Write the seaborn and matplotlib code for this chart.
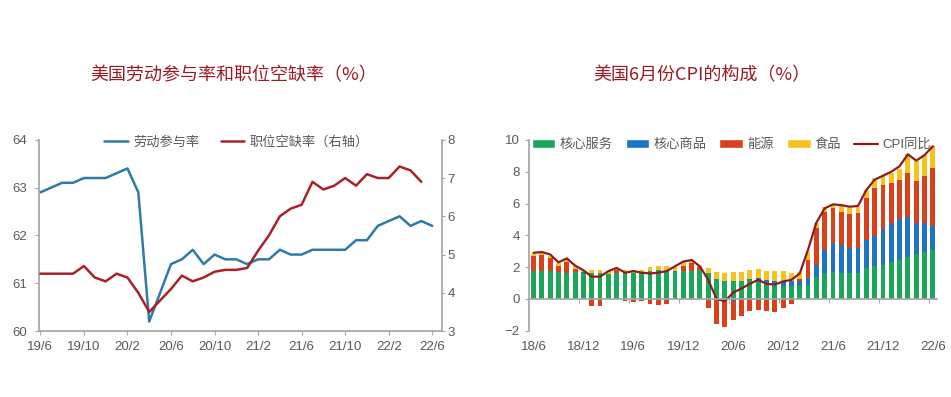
import matplotlib
matplotlib.use("Agg")
import matplotlib.pyplot as plt
from matplotlib.patches import Patch
from matplotlib.lines import Line2D
import numpy as np
import pandas as pd
import seaborn as sns

# ---- left chart: 2019/6 - 2022/6 ----
lfpr = [62.9, 63.0, 63.1, 63.1, 63.2, 63.2, 63.2, 63.3, 63.4, 62.9,
        60.2, 60.8, 61.4, 61.5, 61.7, 61.4, 61.6, 61.5, 61.5, 61.4,
        61.5, 61.5, 61.7, 61.6, 61.6, 61.7, 61.7, 61.7, 61.7, 61.9,
        61.9, 62.2, 62.3, 62.4, 62.2, 62.3, 62.2]
# job openings rate, one month shorter (2019/6 - 2022/5)
job_openings = [4.5, 4.5, 4.5, 4.5, 4.7, 4.4, 4.3, 4.5, 4.4, 4.0,
                3.5, 3.8, 4.1, 4.45, 4.3, 4.4, 4.55, 4.6, 4.6, 4.65,
                5.1, 5.5, 6.0, 6.2, 6.3, 6.9, 6.7, 6.8, 7.0, 6.8,
                7.1, 7.0, 7.0, 7.3, 7.2, 6.9]

# ---- right chart: 2018/6 - 2022/6, contributions to CPI yoy ----
core_services = [1.75, 1.75, 1.75, 1.70, 1.65, 1.70, 1.65, 1.60, 1.60, 1.55,
                 1.65, 1.60, 1.60, 1.60, 1.75, 1.80, 1.75, 1.70, 1.75, 1.75,
                 1.80, 1.65, 1.25, 1.10, 1.10, 1.10, 1.20, 1.20, 0.95, 0.85,
                 0.80, 0.80, 0.80, 0.90, 1.40, 1.60, 1.70, 1.60, 1.60, 1.65,
                 1.95, 2.05, 2.15, 2.30, 2.45, 2.65, 2.80, 2.95, 3.10]
core_goods = [0.00, 0.00, 0.00, 0.00, 0.00, 0.00, 0.03, 0.05, 0.05, 0.00,
              0.00, -0.05, 0.00, 0.00, 0.00, 0.00, 0.00, 0.05, 0.00, -0.05,
              0.00, 0.00, -0.05, -0.15, -0.15, -0.05, 0.05, 0.10, 0.25, 0.30,
              0.30, 0.30, 0.30, 0.40, 0.75, 1.45, 1.80, 1.80, 1.60, 1.55,
              1.75, 1.90, 2.25, 2.50, 2.60, 2.50, 2.00, 1.80, 1.50]
energy = [0.95, 1.00, 0.80, 0.40, 0.70, 0.20, 0.00, -0.42, -0.45, 0.00,
          0.15, -0.10, -0.20, -0.15, -0.35, -0.40, -0.35, -0.03, 0.30, 0.50,
          0.20, -0.60, -1.55, -1.60, -1.15, -1.00, -0.77, -0.67, -0.77, -0.84,
          -0.56, -0.29, 0.15, 1.17, 2.31, 2.39, 2.20, 2.10, 2.16, 2.20,
          2.62, 3.00, 2.79, 2.52, 2.41, 2.80, 2.65, 2.97, 3.62]
food = [0.15, 0.15, 0.15, 0.15, 0.15, 0.15, 0.10, 0.20, 0.20, 0.20,
        0.15, 0.20, 0.25, 0.25, 0.25, 0.25, 0.30, 0.25, 0.25, 0.20,
        0.10, 0.30, 0.42, 0.53, 0.57, 0.57, 0.59, 0.58, 0.58, 0.59,
        0.64, 0.53, 0.45, 0.50, 0.31, 0.36, 0.28, 0.36, 0.34, 0.37,
        0.52, 0.63, 0.52, 0.63, 0.73, 1.17, 1.25, 1.32, 1.40]
cpi_yoy = [2.9, 2.95, 2.8, 2.3, 2.55, 2.1, 1.8, 1.4, 1.4, 1.75,
           1.95, 1.65, 1.75, 1.65, 1.6, 1.65, 1.75, 2.05, 2.35, 2.45,
           2.05, 1.2, 0.0, -0.15, 0.4, 0.65, 0.95, 1.2, 0.95, 0.9,
           1.1, 1.2, 1.6, 3.1, 4.8, 5.7, 5.95, 5.9, 5.8, 5.85,
           6.85, 7.5, 7.75, 8.0, 8.35, 9.1, 8.7, 9.05, 9.6]

left_months = [f"{p.year % 100}/{p.month}" for p in pd.period_range("2019-06", "2022-06", freq="M")]
right_months = [f"{p.year % 100}/{p.month}" for p in pd.period_range("2018-06", "2022-06", freq="M")]

C_LFPR = "#2f7ba8"
C_JO = "#a8222b"
C_GREEN = "#1ba65a"
C_BLUE = "#1f72c4"
C_ORANGE = "#d9411d"
C_YELLOW = "#f6c31c"
C_CPI = "#8e1b1f"
C_TITLE = "#9b1b22"
C_AXIS = "#a6a6a6"
C_TEXT = "#595959"

sns.set_theme(style="white")
plt.rcParams["font.family"] = ["Liberation Sans", "Noto Sans CJK SC"]

fig = plt.figure(figsize=(9.51, 3.97), dpi=100)

# ---------------- left chart ----------------
ax1 = fig.add_axes([0.0413, 0.166, 0.4235, 0.482])
xl = np.arange(len(lfpr))
sns.lineplot(x=xl, y=lfpr, ax=ax1, color=C_LFPR, lw=1.8)
ax1r = ax1.twinx()
sns.lineplot(x=np.arange(len(job_openings)), y=job_openings, ax=ax1r, color=C_JO, lw=1.8)

ax1.set_ylim(60, 64)
ax1r.set_ylim(3, 8)
ax1.set_xlim(-0.1, 36.9)
ax1.set_yticks([60, 61, 62, 63, 64])
ax1r.set_yticks([3, 4, 5, 6, 7, 8])
ax1.set_xticks(xl[::4])
ax1.set_xticklabels(left_months[::4])
for a in (ax1, ax1r):
    a.set_xlabel("")
    a.set_ylabel("")
    a.spines["top"].set_visible(False)
    for s in a.spines.values():
        s.set_color(C_AXIS)
ax1.spines["right"].set_visible(False)
ax1r.spines["left"].set_visible(False)
ax1r.spines["bottom"].set_visible(False)
ax1.tick_params(axis="x", bottom=True, length=3, width=0.8, color=C_AXIS,
                labelsize=9.5, labelcolor=C_TEXT, pad=4)
ax1.tick_params(axis="y", left=True, length=3, width=0.8, color=C_AXIS,
                labelsize=9.5, labelcolor=C_TEXT, pad=6)
ax1r.tick_params(axis="y", right=True, length=2, width=0.8, color=C_AXIS,
                 labelsize=9.5, labelcolor=C_TEXT, pad=2)

h_left = [Line2D([], [], color=C_LFPR, lw=1.8), Line2D([], [], color=C_JO, lw=1.8)]
ax1r.legend(h_left, ["劳动参与率", "职位空缺率（右轴）"], loc="center",
            bbox_to_anchor=(0.49, 0.985), ncol=2, frameon=False, fontsize=9.5,
            handlelength=1.8, handletextpad=0.4, columnspacing=1.6,
            labelcolor=C_TEXT)

# ---------------- right chart ----------------
ax2 = fig.add_axes([0.5566, 0.167, 0.4287, 0.4804])
xr = np.arange(len(cpi_yoy))
g = np.array(core_services)
b = np.array(core_goods)
e = np.array(energy)
f = np.array(food)
bp, bn = np.clip(b, 0, None), np.clip(b, None, 0)
ep, en = np.clip(e, 0, None), np.clip(e, None, 0)

# stacked bars drawn as overlapping cumulative totals
layers = [(g + bp + ep + f, C_YELLOW), (g + bp + ep, C_ORANGE), (g + bp, C_BLUE), (g, C_GREEN),
          (bn + en, C_ORANGE), (bn, C_BLUE)]
for h, c in layers:
    sns.barplot(x=xr, y=h, ax=ax2, color=c, width=0.58, native_scale=True,
                saturation=1, errorbar=None, linewidth=0)
sns.lineplot(x=xr, y=cpi_yoy, ax=ax2, color=C_CPI, lw=1.6)

ax2.set_ylim(-2, 10)
ax2.set_xlim(-0.5, 48.5)
ax2.set_yticks(range(-2, 11, 2))
ax2.set_xticks(xr[::6])
ax2.set_xticklabels(right_months[::6])
ax2.set_xticks(xr[5::6] + 0.5, minor=True)
ax2.set_xlabel("")
ax2.set_ylabel("")
ax2.spines["top"].set_visible(False)
ax2.spines["right"].set_visible(False)
ax2.spines["left"].set_color(C_AXIS)
ax2.spines["bottom"].set_color(C_AXIS)
ax2.spines["bottom"].set_position(("data", 0))
ax2.tick_params(axis="x", which="major", bottom=True, length=0,
                labelsize=9.5, labelcolor=C_TEXT, pad=30)
ax2.tick_params(axis="x", which="minor", bottom=True, length=3, width=0.8, color=C_AXIS)
ax2.tick_params(axis="y", left=True, length=3, width=0.8, color=C_AXIS,
                labelsize=9.5, labelcolor=C_TEXT, pad=4)

h_right = [Patch(facecolor=C_GREEN), Patch(facecolor=C_BLUE), Patch(facecolor=C_ORANGE),
           Patch(facecolor=C_YELLOW), Line2D([], [], color=C_CPI, lw=1.6)]
ax2.legend(h_right, ["核心服务", "核心商品", "能源", "食品", "CPI同比"], loc="center",
           bbox_to_anchor=(0.495, 0.975), ncol=5, frameon=False, fontsize=9.5,
           handlelength=1.8, handleheight=0.6, handletextpad=0.3, columnspacing=1.0,
           labelcolor=C_TEXT)

# titles
fig.text(0.246, 0.811, "美国劳动参与率和职位空缺率（%）", ha="center", va="center",
         color=C_TITLE, fontsize=13, style="italic",
         family=["Noto Sans CJK SC", "DejaVu Sans"])
fig.text(0.738, 0.811, "美国6月份CPI的构成（%）", ha="center", va="center",
         color=C_TITLE, fontsize=13, style="italic",
         family=["Noto Sans CJK SC", "DejaVu Sans"])

fig.savefig("out.png", dpi=100)
